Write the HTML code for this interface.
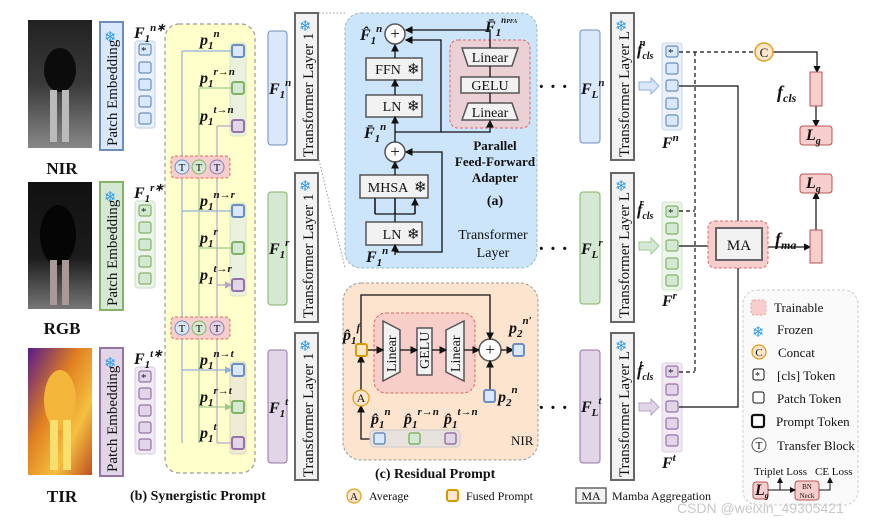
<!DOCTYPE html>
<html><head><meta charset="utf-8"><style>
body{margin:0;background:#fff}
svg{display:block}
text{font-family:"Liberation Serif",serif;fill:#111}
.m{font-style:italic;font-weight:bold;font-size:16px}
.s{font-size:11px}
.b{font-weight:bold}
.sn{font-family:"DejaVu Sans",sans-serif;fill:#2e9bf0;font-size:15px}
.vt{font-size:15px}
</style></head><body>
<svg width="875" height="521" viewBox="0 0 875 521" xmlns="http://www.w3.org/2000/svg">
<defs>
<marker id="ar" markerWidth="6" markerHeight="6" refX="5" refY="3" orient="auto"><path d="M0,0 L6,3 L0,6 z" fill="#111"/></marker>
<marker id="arb" markerWidth="6" markerHeight="6" refX="5" refY="3" orient="auto"><path d="M0,0 L6,3 L0,6 z" fill="#8fb0dd"/></marker>
<marker id="arg" markerWidth="6" markerHeight="6" refX="5" refY="3" orient="auto"><path d="M0,0 L6,3 L0,6 z" fill="#9fcb8f"/></marker>
<marker id="arp" markerWidth="6" markerHeight="6" refX="5" refY="3" orient="auto"><path d="M0,0 L6,3 L0,6 z" fill="#b9a3c8"/></marker>
<linearGradient id="gn" x1="0" y1="0" x2="0" y2="1"><stop offset="0" stop-color="#222"/><stop offset="0.5" stop-color="#3a3a3a"/><stop offset="1" stop-color="#888"/></linearGradient>
<linearGradient id="gr" x1="0" y1="0" x2="0" y2="1"><stop offset="0" stop-color="#111"/><stop offset="0.6" stop-color="#1c1c1c"/><stop offset="1" stop-color="#777"/></linearGradient>
<linearGradient id="gt" x1="0" y1="0" x2="1" y2="1"><stop offset="0" stop-color="#5a1a8a"/><stop offset="0.4" stop-color="#e08020"/><stop offset="0.7" stop-color="#f5c040"/><stop offset="1" stop-color="#c05020"/></linearGradient>
</defs>

<!-- images -->
<rect x="28" y="20" width="64" height="128" fill="url(#gn)"/>
<ellipse cx="60" cy="70" rx="16" ry="22" fill="#0c0c0c"/><rect x="50" y="90" width="7" height="52" fill="#bbb"/><rect x="62" y="90" width="7" height="52" fill="#bbb"/>
<rect x="28" y="182" width="64" height="127" fill="url(#gr)"/>
<ellipse cx="58" cy="235" rx="18" ry="30" fill="#050505"/><rect x="50" y="260" width="7" height="45" fill="#a99"/><rect x="62" y="260" width="7" height="45" fill="#a99"/>
<rect x="28" y="348" width="64" height="127" fill="url(#gt)"/>
<ellipse cx="60" cy="400" rx="16" ry="30" fill="#f3b53a"/><rect x="50" y="420" width="8" height="50" fill="#f8e070"/><rect x="63" y="420" width="8" height="50" fill="#f8e070"/>
<text x="62" y="174" text-anchor="middle" class="b" font-size="17">NIR</text>
<text x="62" y="334" text-anchor="middle" class="b" font-size="17">RGB</text>
<text x="62" y="502" text-anchor="middle" class="b" font-size="17">TIR</text>

<!-- patch embedding -->
<g class="vt">
<rect x="100" y="22" width="23" height="128" fill="#dae8fc" stroke="#6c8ebf" stroke-width="2"/>
<text class="sn" x="104" y="42">❄</text>
<text transform="translate(117,146) rotate(-90)" class="vt">Patch Embedding</text>
<rect x="100" y="182" width="23" height="128" fill="#d5e8d4" stroke="#82b366" stroke-width="2"/>
<text class="sn" x="104" y="202">❄</text>
<text transform="translate(117,306) rotate(-90)" class="vt">Patch Embedding</text>
<rect x="100" y="348" width="23" height="128" fill="#e1d5e7" stroke="#9673a6" stroke-width="2"/>
<text class="sn" x="104" y="368">❄</text>
<text transform="translate(117,472) rotate(-90)" class="vt">Patch Embedding</text>
</g>

<!-- F1* token columns -->
<g stroke-width="1.2">
<rect x="135" y="41" width="20" height="87" rx="3" fill="#eaf1fb" stroke="#c6d7ef"/>
<rect x="139" y="44" width="12" height="11" rx="2" fill="#dae8fc" stroke="#6c8ebf"/>
<rect x="139" y="62" width="12" height="11" rx="2" fill="#dae8fc" stroke="#6c8ebf"/>
<rect x="139" y="79" width="12" height="11" rx="2" fill="#dae8fc" stroke="#6c8ebf"/>
<rect x="139" y="96" width="12" height="11" rx="2" fill="#dae8fc" stroke="#6c8ebf"/>
<rect x="139" y="113" width="12" height="11" rx="2" fill="#dae8fc" stroke="#6c8ebf"/>
<rect x="135" y="201" width="20" height="87" rx="3" fill="#ecf5eb" stroke="#cfe3c9"/>
<rect x="139" y="205" width="12" height="11" rx="2" fill="#d5e8d4" stroke="#82b366"/>
<rect x="139" y="222" width="12" height="11" rx="2" fill="#d5e8d4" stroke="#82b366"/>
<rect x="139" y="239" width="12" height="11" rx="2" fill="#d5e8d4" stroke="#82b366"/>
<rect x="139" y="256" width="12" height="11" rx="2" fill="#d5e8d4" stroke="#82b366"/>
<rect x="139" y="273" width="12" height="11" rx="2" fill="#d5e8d4" stroke="#82b366"/>
<rect x="135" y="367" width="20" height="87" rx="3" fill="#f1eaf5" stroke="#ddcfe5"/>
<rect x="139" y="371" width="12" height="11" rx="2" fill="#e1d5e7" stroke="#9673a6"/>
<rect x="139" y="388" width="12" height="11" rx="2" fill="#e1d5e7" stroke="#9673a6"/>
<rect x="139" y="405" width="12" height="11" rx="2" fill="#e1d5e7" stroke="#9673a6"/>
<rect x="139" y="422" width="12" height="11" rx="2" fill="#e1d5e7" stroke="#9673a6"/>
<rect x="139" y="439" width="12" height="11" rx="2" fill="#e1d5e7" stroke="#9673a6"/>
</g>
<text x="141" y="54" font-size="11">*</text><text x="141" y="215" font-size="11">*</text><text x="141" y="381" font-size="11">*</text>
<text class="m" x="134" y="38">F<tspan font-size="11" dy="4">1</tspan><tspan font-size="11" dy="-11">n∗</tspan></text>
<text class="m" x="134" y="198">F<tspan font-size="11" dy="4">1</tspan><tspan font-size="11" dy="-11">r∗</tspan></text>
<text class="m" x="134" y="364">F<tspan font-size="11" dy="4">1</tspan><tspan font-size="11" dy="-11">t∗</tspan></text>

<!-- synergistic prompt -->
<rect x="165" y="24" width="90" height="449" rx="14" fill="#ffffcc" stroke="#999" stroke-dasharray="4,3" stroke-width="1.2"/>
<rect x="230" y="43" width="16" height="93" rx="3" fill="#eaf2df" stroke="#d6e6c5"/>
<rect x="230" y="203" width="16" height="93" rx="3" fill="#eaf2df" stroke="#d6e6c5"/>
<rect x="230" y="362" width="16" height="92" rx="3" fill="#efecd6" stroke="#ddd5c0"/>
<g fill="none" stroke-width="1.2">
<path d="M182 51 V443 M182 51 H232" stroke="#8fb0dd"/>
<path d="M182 211 H231 M182 370 H231" stroke="#8fb0dd" marker-end="url(#arb)"/>
<path d="M199 88 V443" stroke="#9fcb8f"/>
<path d="M199 88 H231 M199 407 H231" stroke="#9fcb8f" marker-end="url(#arg)"/>
<path d="M199 248 H232" stroke="#9fcb8f"/>
<path d="M217 126 V443" stroke="#b9a3c8"/>
<path d="M217 126 H231 M217 285 H231" stroke="#b9a3c8" marker-end="url(#arp)"/>
<path d="M217 443 H232" stroke="#b9a3c8"/>
</g>
<g stroke-width="2">
<rect x="232" y="45" width="12" height="12" rx="2" fill="#dae8fc" stroke="#6c8ebf"/>
<rect x="232" y="82" width="12" height="12" rx="2" fill="#d5e8d4" stroke="#82b366"/>
<rect x="232" y="120" width="12" height="12" rx="2" fill="#e1d5e7" stroke="#9673a6"/>
<rect x="232" y="205" width="12" height="12" rx="2" fill="#dae8fc" stroke="#6c8ebf"/>
<rect x="232" y="242" width="12" height="12" rx="2" fill="#d5e8d4" stroke="#82b366"/>
<rect x="232" y="279" width="12" height="12" rx="2" fill="#e1d5e7" stroke="#9673a6"/>
<rect x="232" y="364" width="12" height="12" rx="2" fill="#dae8fc" stroke="#6c8ebf"/>
<rect x="232" y="401" width="12" height="12" rx="2" fill="#d5e8d4" stroke="#82b366"/>
<rect x="232" y="437" width="12" height="12" rx="2" fill="#e1d5e7" stroke="#9673a6"/>
</g>
<g class="m">
<text x="200" y="45">p<tspan font-size="11" dy="4">1</tspan><tspan font-size="11" dy="-12">n</tspan></text>
<text x="200" y="83">p<tspan font-size="11" dy="4">1</tspan><tspan font-size="11" dy="-12">r→n</tspan></text>
<text x="200" y="121">p<tspan font-size="11" dy="4">1</tspan><tspan font-size="11" dy="-12">t→n</tspan></text>
<text x="200" y="206">p<tspan font-size="11" dy="4">1</tspan><tspan font-size="11" dy="-12">n→r</tspan></text>
<text x="200" y="243">p<tspan font-size="11" dy="4">1</tspan><tspan font-size="11" dy="-12">r</tspan></text>
<text x="200" y="280">p<tspan font-size="11" dy="4">1</tspan><tspan font-size="11" dy="-12">t→r</tspan></text>
<text x="200" y="365">p<tspan font-size="11" dy="4">1</tspan><tspan font-size="11" dy="-12">n→t</tspan></text>
<text x="200" y="402">p<tspan font-size="11" dy="4">1</tspan><tspan font-size="11" dy="-12">r→t</tspan></text>
<text x="200" y="438">p<tspan font-size="11" dy="4">1</tspan><tspan font-size="11" dy="-12">t</tspan></text>
</g>
<!-- T blocks -->
<g>
<rect x="171" y="156" width="59" height="22" rx="4" fill="#f8cecc" stroke="#d66" stroke-dasharray="3,2"/>
<rect x="171" y="317" width="59" height="22" rx="4" fill="#f8cecc" stroke="#d66" stroke-dasharray="3,2"/>
<circle cx="182" cy="167" r="7" fill="#dae8fc" stroke="#6c8ebf"/><circle cx="199" cy="167" r="7" fill="#d5e8d4" stroke="#82b366"/><circle cx="217" cy="167" r="7" fill="#e1d5e7" stroke="#9673a6"/>
<circle cx="182" cy="328" r="7" fill="#dae8fc" stroke="#6c8ebf"/><circle cx="199" cy="328" r="7" fill="#d5e8d4" stroke="#82b366"/><circle cx="217" cy="328" r="7" fill="#e1d5e7" stroke="#9673a6"/>
<g font-size="11" text-anchor="middle"><text x="182" y="171">T</text><text x="199" y="171">T</text><text x="217" y="171">T</text><text x="182" y="332">T</text><text x="199" y="332">T</text><text x="217" y="332">T</text></g>
</g>
<text x="130" y="500" class="b" font-size="14">(b)  Synergistic Prompt</text>

<!-- F1 bars -->
<rect x="268" y="31" width="19" height="114" rx="3" fill="#dae8fc" stroke="#6c8ebf"/>
<rect x="268" y="192" width="19" height="113" rx="3" fill="#d5e8d4" stroke="#82b366"/>
<rect x="268" y="350" width="19" height="113" rx="3" fill="#e1d5e7" stroke="#9673a6"/>
<g class="m"><text x="269" y="94">F<tspan font-size="11" dy="4">1</tspan><tspan font-size="11" dy="-12">n</tspan></text>
<text x="269" y="254">F<tspan font-size="11" dy="4">1</tspan><tspan font-size="11" dy="-12">r</tspan></text>
<text x="269" y="413">F<tspan font-size="11" dy="4">1</tspan><tspan font-size="11" dy="-12">t</tspan></text></g>

<!-- Transformer Layer 1 -->
<g>
<rect x="295" y="13" width="23" height="147" fill="#f2f2f2" stroke="#666" stroke-width="2"/>
<text class="sn" x="299" y="31">❄</text><text transform="translate(313,157) rotate(-90)" font-size="15">Transformer Layer 1</text>
<rect x="295" y="173" width="23" height="149" fill="#f2f2f2" stroke="#666" stroke-width="2"/>
<text class="sn" x="299" y="191">❄</text><text transform="translate(313,318) rotate(-90)" font-size="15">Transformer Layer 1</text>
<rect x="295" y="333" width="23" height="147" fill="#f2f2f2" stroke="#666" stroke-width="2"/>
<text class="sn" x="299" y="351">❄</text><text transform="translate(313,477) rotate(-90)" font-size="15">Transformer Layer 1</text>
</g>
<path d="M319 13 H345 M319 160 L345 268" stroke="#999" stroke-dasharray="1.5,2" fill="none"/>

<!-- (a) transformer layer -->
<rect x="345" y="13" width="192" height="255" rx="16" fill="#cce5fb" stroke="#9bb" stroke-dasharray="3,2"/>
<rect x="450" y="40" width="80" height="88" rx="8" fill="#ebd0d6" stroke="#d66" stroke-dasharray="3,2"/>
<g fill="#f2f2f2" stroke="#555" stroke-width="1.5">
<rect x="366" y="58" width="56" height="22"/><rect x="366" y="95" width="56" height="22"/>
<rect x="360" y="175" width="68" height="23"/><rect x="366" y="222" width="56" height="23"/>
<path d="M462 48 H518 L512 66 H468 Z"/><rect x="461" y="77" width="58" height="16"/><path d="M468 103 H512 L518 120 H462 Z"/>
<circle cx="395" cy="34" r="10" fill="#fff"/><circle cx="395" cy="152" r="10" fill="#fff"/>
</g>
<g font-size="14" text-anchor="middle"><text x="388" y="74">FFN</text><text x="392" y="111">LN</text><text x="388" y="192">MHSA</text><text x="392" y="239">LN</text>
<text x="490" y="62">Linear</text><text x="490" y="90">GELU</text><text x="490" y="117">Linear</text>
<text x="395" y="39" font-size="17">+</text><text x="395" y="157" font-size="17">+</text></g>
<g class="sn" font-size="13"><text x="407" y="74">❄</text><text x="407" y="111">❄</text><text x="414" y="192">❄</text><text x="407" y="239">❄</text></g>
<g fill="none" stroke="#111" stroke-width="1.3">
<path d="M395 255 V245" marker-end="url(#ar)"/>
<path d="M395 222 V214 M375 214 H415 M375 214 V198 M395 214 V198 M415 214 V198" />
<path d="M375 214 V199 M395 214 V199 M415 214 V199" marker-end="url(#ar)"/>
<path d="M395 175 V162" marker-end="url(#ar)"/>
<path d="M395 252 H442 V152 H406" marker-end="url(#ar)"/>
<path d="M395 142 V117" marker-end="url(#ar)"/>
<path d="M395 95 V80" marker-end="url(#ar)"/>
<path d="M395 58 V45" marker-end="url(#ar)"/>
<path d="M395 132 H490 V121" marker-end="url(#ar)"/>
<path d="M441 132 V40 H406" marker-end="url(#ar)"/>
<path d="M490 48 V30 H406" marker-end="url(#ar)"/>
<path d="M490 66 V77 M490 93 V103"/>
</g>
<g class="m">
<text x="360" y="40">F̂<tspan font-size="11" dy="4">1</tspan><tspan font-size="11" dy="-12">n</tspan></text>
<text x="364" y="138">F̄<tspan font-size="11" dy="4">1</tspan><tspan font-size="11" dy="-12">n</tspan></text>
<text x="366" y="262">F<tspan font-size="11" dy="4">1</tspan><tspan font-size="11" dy="-12">n</tspan></text>
<text x="485" y="32">F̄<tspan font-size="11" dy="4">1</tspan><tspan font-size="9" dy="-13">n<tspan font-size="6">PFA</tspan></tspan></text>
</g>
<g class="b" font-size="13" text-anchor="middle"><text x="495" y="150">Parallel</text><text x="495" y="166">Feed-Forward</text><text x="495" y="182">Adapter</text><text x="495" y="205" font-size="14">(a)</text></g>
<g font-size="14" text-anchor="middle"><text x="493" y="239">Transformer</text><text x="493" y="257">Layer</text></g>

<!-- dots and F_L bars -->
<g font-size="20" class="b"><text x="538" y="93">·  ·  ·</text><text x="538" y="255">·  ·  ·</text><text x="538" y="414">·  ·  ·</text></g>
<rect x="580" y="30" width="20" height="113" rx="3" fill="#dae8fc" stroke="#6c8ebf"/>
<rect x="580" y="192" width="20" height="112" rx="3" fill="#d5e8d4" stroke="#82b366"/>
<rect x="580" y="350" width="20" height="113" rx="3" fill="#e1d5e7" stroke="#9673a6"/>
<g class="m"><text x="581" y="94">F<tspan font-size="11" dy="4">L</tspan><tspan font-size="11" dy="-12">n</tspan></text>
<text x="581" y="254">F<tspan font-size="11" dy="4">L</tspan><tspan font-size="11" dy="-12">r</tspan></text>
<text x="581" y="412">F<tspan font-size="11" dy="4">L</tspan><tspan font-size="11" dy="-12">t</tspan></text></g>

<!-- Transformer Layer L -->
<rect x="611" y="13" width="23" height="147" fill="#f2f2f2" stroke="#666" stroke-width="2"/>
<text class="sn" x="615" y="31">❄</text><text transform="translate(629,157) rotate(-90)" font-size="15">Transformer Layer L</text>
<rect x="611" y="173" width="23" height="149" fill="#f2f2f2" stroke="#666" stroke-width="2"/>
<text class="sn" x="615" y="191">❄</text><text transform="translate(629,318) rotate(-90)" font-size="15">Transformer Layer L</text>
<rect x="611" y="333" width="23" height="147" fill="#f2f2f2" stroke="#666" stroke-width="2"/>
<text class="sn" x="615" y="351">❄</text><text transform="translate(629,477) rotate(-90)" font-size="15">Transformer Layer L</text>

<!-- fat arrows -->
<path d="M639 82 H651 V78 L659 86 L651 94 V90 H639 Z" fill="#dae8fc" stroke="#8fb0dd"/>
<path d="M639 242 H651 V238 L659 246 L651 254 V250 H639 Z" fill="#d5e8d4" stroke="#9fcb8f"/>
<path d="M639 403 H651 V399 L659 407 L651 415 V411 H639 Z" fill="#e1d5e7" stroke="#b9a3c8"/>

<!-- output token columns -->
<rect x="662" y="43" width="20" height="87" rx="3" fill="#eaf1fb" stroke="#c6d7ef"/>
<rect x="662" y="202" width="20" height="88" rx="3" fill="#ecf5eb" stroke="#cfe3c9"/>
<rect x="662" y="363" width="20" height="89" rx="3" fill="#f1eaf5" stroke="#ddcfe5"/>
<g stroke-width="1.2">
<rect x="666" y="46" width="12" height="11" rx="2" fill="#dae8fc" stroke="#6c8ebf"/><rect x="666" y="63" width="12" height="11" rx="2" fill="#dae8fc" stroke="#6c8ebf"/><rect x="666" y="80" width="12" height="11" rx="2" fill="#dae8fc" stroke="#6c8ebf"/><rect x="666" y="98" width="12" height="11" rx="2" fill="#dae8fc" stroke="#6c8ebf"/><rect x="666" y="115" width="12" height="11" rx="2" fill="#dae8fc" stroke="#6c8ebf"/>
<rect x="666" y="206" width="12" height="11" rx="2" fill="#d5e8d4" stroke="#82b366"/><rect x="666" y="223" width="12" height="11" rx="2" fill="#d5e8d4" stroke="#82b366"/><rect x="666" y="240" width="12" height="11" rx="2" fill="#d5e8d4" stroke="#82b366"/><rect x="666" y="258" width="12" height="11" rx="2" fill="#d5e8d4" stroke="#82b366"/><rect x="666" y="275" width="12" height="11" rx="2" fill="#d5e8d4" stroke="#82b366"/>
<rect x="666" y="366" width="12" height="11" rx="2" fill="#e1d5e7" stroke="#9673a6"/><rect x="666" y="384" width="12" height="11" rx="2" fill="#e1d5e7" stroke="#9673a6"/><rect x="666" y="401" width="12" height="11" rx="2" fill="#e1d5e7" stroke="#9673a6"/><rect x="666" y="418" width="12" height="11" rx="2" fill="#e1d5e7" stroke="#9673a6"/><rect x="666" y="435" width="12" height="11" rx="2" fill="#e1d5e7" stroke="#9673a6"/>
</g>
<text x="668" y="56" font-size="11">*</text><text x="668" y="216" font-size="11">*</text><text x="668" y="376" font-size="11">*</text>
<g class="m">
<text x="637" y="55">f<tspan font-size="10" dy="4">cls</tspan><tspan font-size="11" dy="-13" dx="-14">n</tspan></text>
<text x="637" y="215">f<tspan font-size="10" dy="4">cls</tspan><tspan font-size="11" dy="-13" dx="-14">r</tspan></text>
<text x="637" y="376">f<tspan font-size="10" dy="4">cls</tspan><tspan font-size="11" dy="-13" dx="-14">t</tspan></text>
<text x="662" y="148">F<tspan font-size="11" dy="-7">n</tspan></text>
<text x="662" y="306">F<tspan font-size="11" dy="-7">r</tspan></text>
<text x="662" y="468">F<tspan font-size="11" dy="-7">t</tspan></text>
</g>

<!-- right connectors -->
<g fill="none" stroke="#111" stroke-width="1.2">
<path d="M679 52 H755 M679 211 H695 M679 372 H695 M695 52 V372" stroke-dasharray="4,3"/>
<path d="M773 52 H817 V72" marker-end="url(#ar)"/>
<path d="M816 106 V126" marker-end="url(#ar)"/>
<path d="M679 86 H738 V228" marker-end="url(#ar)"/>
<path d="M679 246 H716" marker-end="url(#ar)"/>
<path d="M679 407 H738 V260" marker-end="url(#ar)"/>
<path d="M762 247 H810" marker-end="url(#ar)"/>
<path d="M816 230 V193" marker-end="url(#ar)"/>
</g>
<circle cx="764" cy="52" r="9" fill="#ffe6cc" stroke="#e0a020" stroke-width="1.5"/>
<text x="764" y="57" text-anchor="middle" font-size="13">C</text>
<rect x="810" y="72" width="12" height="34" fill="#f8cecc" stroke="#b85450"/>
<rect x="800" y="126" width="32" height="19" rx="3" fill="#f8cecc" stroke="#b85450"/>
<rect x="800" y="174" width="32" height="19" rx="3" fill="#f8cecc" stroke="#b85450"/>
<rect x="810" y="230" width="12" height="33" fill="#f8cecc" stroke="#b85450"/>
<rect x="708" y="221" width="60" height="47" rx="7" fill="#f8cecc" stroke="#d66" stroke-dasharray="3,2"/>
<rect x="716" y="228" width="46" height="32" fill="#f2f2f2" stroke="#666" stroke-width="2"/>
<text x="739" y="250" text-anchor="middle" font-size="15">MA</text>
<g class="m"><text x="806" y="140">L<tspan font-size="10" dy="4">g</tspan></text><text x="806" y="188">L<tspan font-size="10" dy="4">g</tspan></text>
<text x="777" y="98" font-size="18">f<tspan font-size="12" dy="4">cls</tspan></text>
<text x="775" y="245" font-size="18">f<tspan font-size="12" dy="4">ma</tspan></text></g>

<!-- legend -->
<rect x="743" y="290" width="115" height="215" rx="14" fill="#fafafa" stroke="#ccc" stroke-dasharray="3,2"/>
<rect x="751" y="300" width="15" height="15" rx="3" fill="#f8cecc" stroke="#e99" stroke-dasharray="2,2"/>
<text class="sn" x="752" y="337">❄</text>
<circle cx="759" cy="352" r="7" fill="#ffe6cc" stroke="#e0a020" stroke-width="1.3"/><text x="759" y="356" font-size="11" text-anchor="middle">C</text>
<rect x="753" y="369" width="11" height="11" rx="2" fill="#fff" stroke="#111"/><text x="755" y="379" font-size="10">*</text>
<rect x="753" y="392" width="11" height="11" rx="2" fill="#fff" stroke="#111"/>
<rect x="752" y="415" width="12" height="12" rx="2" fill="#fff" stroke="#111" stroke-width="2.2"/>
<circle cx="759" cy="445" r="7" fill="#fff" stroke="#555"/><text x="759" y="449" font-size="11" text-anchor="middle">T</text>
<g font-size="13"><text x="774" y="312">Trainable</text><text x="777" y="334">Frozen</text><text x="778" y="357">Concat</text><text x="777" y="380">[cls] Token</text><text x="777" y="403">Patch Token</text><text x="776" y="426">Prompt Token</text><text x="777" y="450">Transfer Block</text>
<text x="754" y="475" font-size="11">Triplet Loss</text><text x="815" y="475" font-size="11">CE Loss</text></g>
<rect x="753" y="482" width="15" height="17" rx="3" fill="#f8cecc" stroke="#b85450"/>
<text class="m" x="755" y="495" font-size="12">L<tspan font-size="8" dy="3">g</tspan></text>
<rect x="795" y="481" width="24" height="19" rx="3" fill="#f8cecc" stroke="#b85450"/>
<text x="807" y="489" font-size="7" text-anchor="middle">BN</text><text x="807" y="498" font-size="7" text-anchor="middle">Neck</text>
<g fill="none" stroke="#111" stroke-width="1"><path d="M768 490 H795" marker-end="url(#ar)"/><path d="M780 490 V478" marker-end="url(#ar)"/><path d="M819 490 H830 V478" marker-end="url(#ar)"/></g>

<!-- (c) residual prompt -->
<rect x="343" y="283" width="195" height="177" rx="18" fill="#fce4cf" stroke="#999" stroke-dasharray="3,2"/>
<rect x="374" y="313" width="101" height="80" rx="12" fill="#f8cfc8" stroke="#d66" stroke-dasharray="3,2"/>
<g fill="#f2f2f2" stroke="#555" stroke-width="1.5">
<path d="M383 321 L400 330 V372 L383 381 Z"/>
<rect x="417" y="328" width="15" height="47"/>
<path d="M446 330 L464 321 V381 L446 372 Z"/>
<circle cx="490" cy="350" r="11" fill="#fff"/>
</g>
<text transform="translate(396,372) rotate(-90)" font-size="14">Linear</text>
<text transform="translate(429,369) rotate(-90)" font-size="14">GELU</text>
<text transform="translate(460,372) rotate(-90)" font-size="14">Linear</text>
<text x="490" y="355" text-anchor="middle" font-size="17">+</text>
<g fill="none" stroke="#111" stroke-width="1.3">
<path d="M367 350 H383" marker-end="url(#ar)"/><path d="M400 350 H417" marker-end="url(#ar)"/><path d="M432 350 H446" marker-end="url(#ar)"/><path d="M464 350 H479" marker-end="url(#ar)"/>
<path d="M501 350 H513" marker-end="url(#ar)"/>
<path d="M361 344 V295 H490 V339" marker-end="url(#ar)"/>
<path d="M490 390 V361" marker-end="url(#ar)"/>
<path d="M370 439 H361 V406" marker-end="url(#ar)"/>
<path d="M361 390 V356" marker-end="url(#ar)"/>
</g>
<rect x="356" y="344" width="11" height="12" rx="2" fill="#ffe6cc" stroke="#d79b00" stroke-width="2"/>
<rect x="513" y="344" width="11" height="12" rx="2" fill="#dae8fc" stroke="#6c8ebf" stroke-width="2"/>
<rect x="484" y="390" width="11" height="12" rx="2" fill="#dae8fc" stroke="#6c8ebf" stroke-width="2"/>
<circle cx="361" cy="398" r="8" fill="#ffe6cc" stroke="#e0a020" stroke-width="1.3"/><text x="361" y="402" text-anchor="middle" font-size="12">A</text>
<rect x="370" y="430" width="90" height="17" rx="4" fill="#e8e2dc" stroke="#ccc"/>
<rect x="374" y="433" width="11" height="11" rx="2" fill="#dae8fc" stroke="#6c8ebf" stroke-width="1.5"/>
<rect x="409" y="433" width="11" height="11" rx="2" fill="#d5e8d4" stroke="#82b366" stroke-width="1.5"/>
<rect x="445" y="433" width="11" height="11" rx="2" fill="#e1d5e7" stroke="#9673a6" stroke-width="1.5"/>
<g class="m">
<text x="343" y="340">p̂<tspan font-size="11" dy="4">1</tspan><tspan font-size="11" dy="-13">f</tspan></text>
<text x="509" y="333">p<tspan font-size="11" dy="4">2</tspan><tspan font-size="11" dy="-13">n′</tspan></text>
<text x="498" y="402">p<tspan font-size="11" dy="4">2</tspan><tspan font-size="11" dy="-13">n</tspan></text>
<text x="371" y="424">p̂<tspan font-size="11" dy="4">1</tspan><tspan font-size="11" dy="-13">n</tspan></text>
<text x="404" y="424">p̂<tspan font-size="11" dy="4">1</tspan><tspan font-size="11" dy="-13">r→n</tspan></text>
<text x="444" y="424">p̂<tspan font-size="11" dy="4">1</tspan><tspan font-size="11" dy="-13">t→n</tspan></text>
</g>
<text x="511" y="445" font-size="13">NIR</text>
<text x="375" y="478" class="b" font-size="14">(c)  Residual Prompt</text>
<circle cx="354" cy="496" r="7" fill="#ffe6cc" stroke="#e0a020" stroke-width="1.3"/><text x="354" y="500" text-anchor="middle" font-size="11">A</text>
<text x="369" y="500" font-size="12">Average</text>
<rect x="447" y="490" width="11" height="11" rx="2" fill="#ffe6cc" stroke="#d79b00" stroke-width="2"/>
<text x="466" y="500" font-size="12">Fused Prompt</text>
<rect x="576" y="488" width="30" height="15" fill="#f2f2f2" stroke="#666" stroke-width="1.5"/><text x="591" y="500" text-anchor="middle" font-size="12">MA</text>
<text x="612" y="500" font-size="12">Mamba Aggregation</text>
<text x="677" y="513" font-size="14" fill="#bbb" style="fill:#c8c8c8;font-family:'Liberation Sans',sans-serif">CSDN @weixin_49305421</text>
</svg>
</body></html>
